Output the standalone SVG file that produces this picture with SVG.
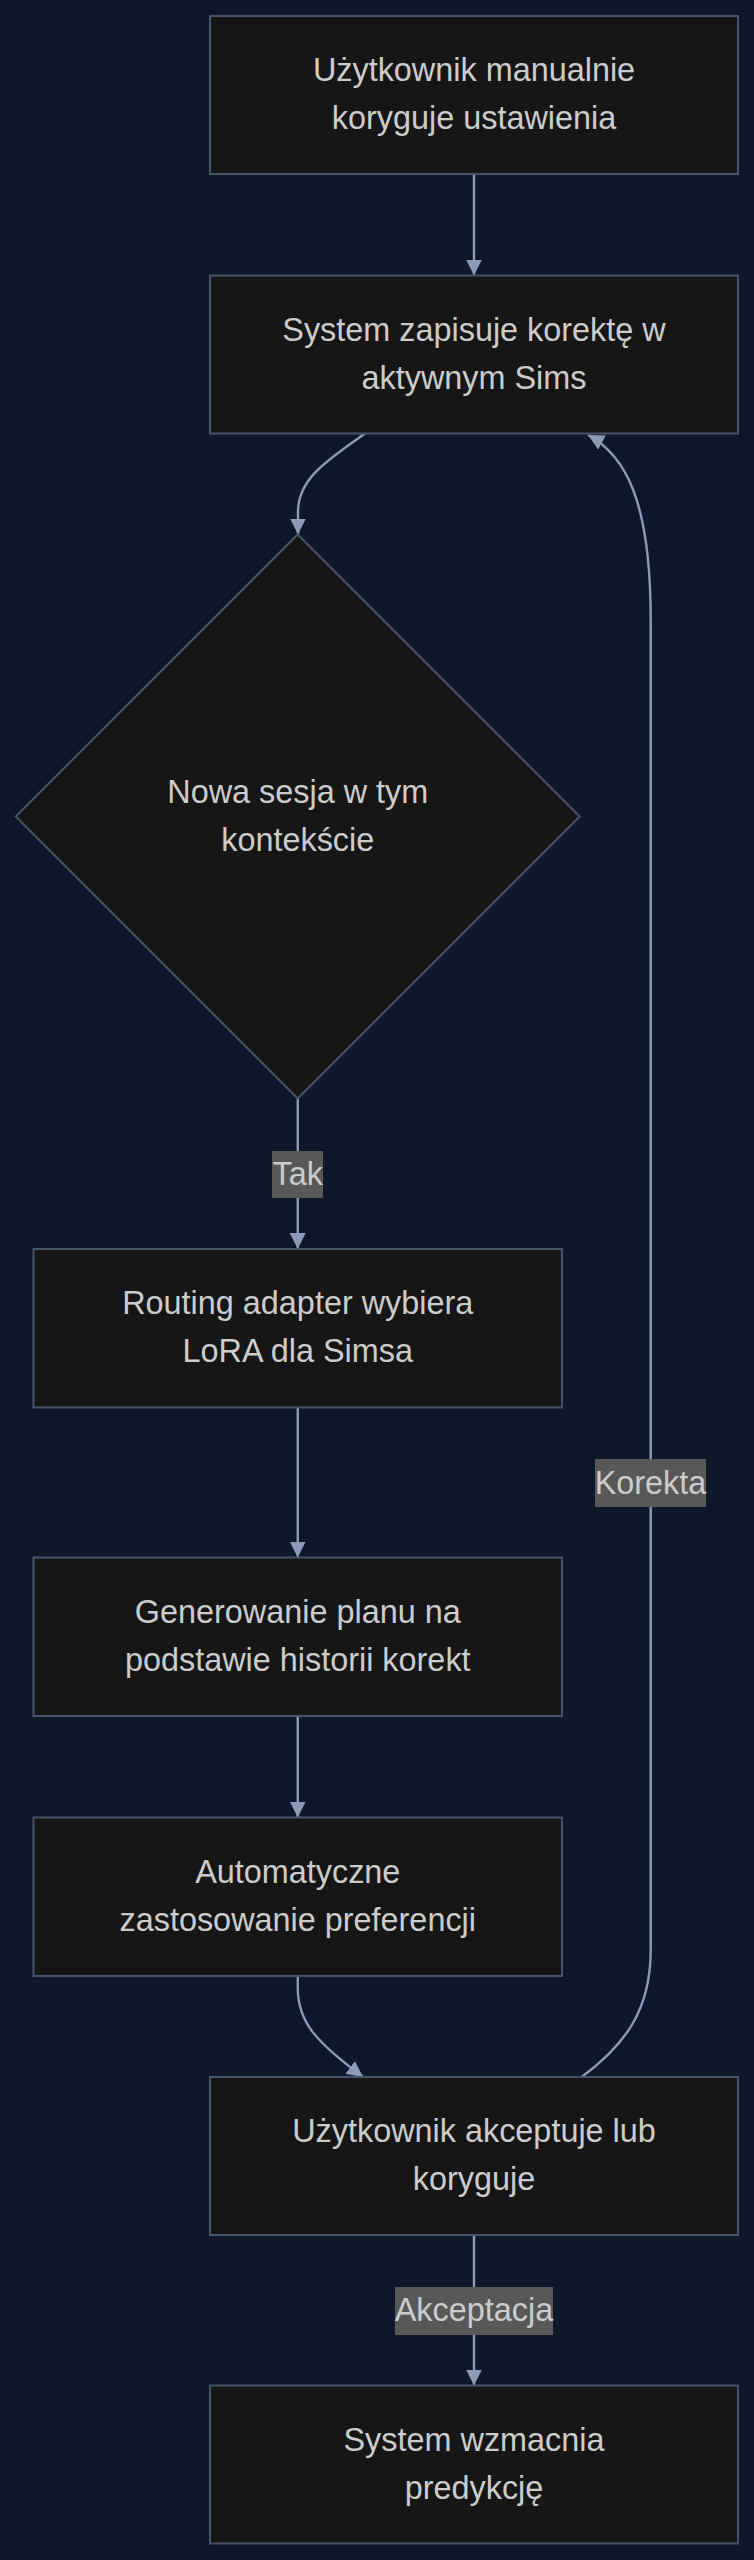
<svg xmlns="http://www.w3.org/2000/svg" width="754" height="2560" viewBox="0 0 754 2560">
<style>
.bg{fill:#0f172a}
.node{fill:#161616;stroke:#46546a;stroke-width:2}
.t{font-family:"Liberation Sans",Arial,sans-serif;font-size:32.4px;fill:#cccccc;text-anchor:middle}
.edge{fill:none;stroke:#8a9bb8;stroke-width:2.4}
.lbl{fill:#585858}
</style>
<defs>
<marker id="arr" viewBox="0 0 16 16" refX="16" refY="8" markerWidth="16" markerHeight="16" markerUnits="userSpaceOnUse" orient="auto">
<path d="M0,0 L16,8 L0,16 z" fill="#8a9bb8"/>
</marker>
</defs>
<rect class="bg" x="0" y="0" width="754" height="2560"/>
<g id="connectors">
<path class="edge" d="M474,174 L474,275.5" marker-end="url(#arr)"/>
<path class="edge" d="M365,433.5 C328,460 298,478 298,512 L298,534.5" marker-end="url(#arr)"/>
<path class="edge" d="M297.75,1098.5 L297.75,1249" marker-end="url(#arr)"/>
<path class="edge" d="M297.75,1407.5 L297.75,1557.5" marker-end="url(#arr)"/>
<path class="edge" d="M297.75,1716 L297.75,1817.5" marker-end="url(#arr)"/>
<path class="edge" d="M297.75,1976 L297.75,1988 C297.75,2022 316,2042 363,2077" marker-end="url(#arr)"/>
<path class="edge" d="M581.7,2077 C625,2045 650.7,2010 650.7,1950 L650.7,620 C650.7,500 625,455 588,435" marker-end="url(#arr)"/>
<path class="edge" d="M474,2235 L474,2385.5" marker-end="url(#arr)"/>
<g id="label-tak">
<rect class="lbl" x="272" y="1151" width="51" height="47"/>
<text class="t" x="297.75" y="1185">Tak</text>
</g>
<g id="label-korekta">
<rect class="lbl" x="595" y="1459" width="111" height="48"/>
<text class="t" x="650.5" y="1493.5">Korekta</text>
</g>
<g id="label-akceptacja">
<rect class="lbl" x="395" y="2287" width="158" height="48"/>
<text class="t" x="474" y="2321">Akceptacja</text>
</g>
</g>
<g id="n1">
<rect class="node" x="210" y="16" width="528" height="158"/>
<text class="t" x="474" y="81">Użytkownik manualnie</text>
<text class="t" x="474" y="129">koryguje ustawienia</text>
</g>
<g id="n2">
<rect class="node" x="210" y="275.5" width="528" height="158"/>
<text class="t" x="474" y="340.5">System zapisuje korektę w</text>
<text class="t" x="474" y="388.5">aktywnym Sims</text>
</g>
<g id="n3">
<polygon class="node" points="297.75,534.5 579.75,816.5 297.75,1098.5 15.75,816.5"/>
<text class="t" x="297.75" y="803">Nowa sesja w tym</text>
<text class="t" x="297.75" y="851">kontekście</text>
</g>
<g id="n4">
<rect class="node" x="33.5" y="1249" width="528.5" height="158.5"/>
<text class="t" x="297.75" y="1314">Routing adapter wybiera</text>
<text class="t" x="297.75" y="1362">LoRA dla Simsa</text>
</g>
<g id="n5">
<rect class="node" x="33.5" y="1557.5" width="528.5" height="158.5"/>
<text class="t" x="297.75" y="1622.5">Generowanie planu na</text>
<text class="t" x="297.75" y="1670.5">podstawie historii korekt</text>
</g>
<g id="n6">
<rect class="node" x="33.5" y="1817.5" width="528.5" height="158.5"/>
<text class="t" x="297.75" y="1882.5">Automatyczne</text>
<text class="t" x="297.75" y="1930.5">zastosowanie preferencji</text>
</g>
<g id="n7">
<rect class="node" x="210" y="2077" width="528" height="158"/>
<text class="t" x="474" y="2142">Użytkownik akceptuje lub</text>
<text class="t" x="474" y="2190">koryguje</text>
</g>
<g id="n8">
<rect class="node" x="210" y="2385.5" width="528" height="158"/>
<text class="t" x="474" y="2450.5">System wzmacnia</text>
<text class="t" x="474" y="2498.5">predykcję</text>
</g>
</svg>
